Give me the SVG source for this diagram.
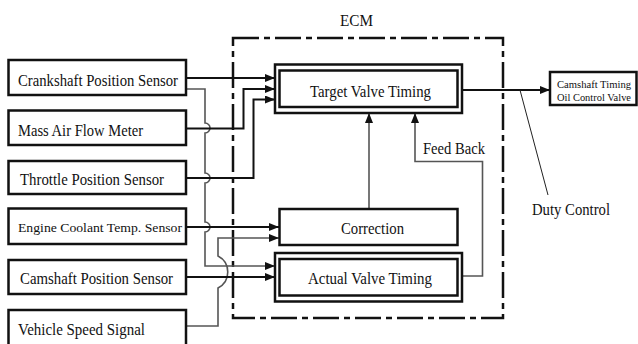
<svg xmlns="http://www.w3.org/2000/svg" width="638" height="344" viewBox="0 0 638 344">
<style>
  .box { fill: #fff; stroke: #111; stroke-width: 2.5; }
  .t { font-family: "Liberation Serif", "Times New Roman", serif; font-size: 17px; fill: #111; }
  .ts { font-family: "Liberation Serif", "Times New Roman", serif; font-size: 13px; fill: #111; }
  .tv { font-family: "Liberation Serif", "Times New Roman", serif; font-size: 11px; fill: #111; }
  .ln { fill: none; stroke: #111; stroke-width: 2; }
  .lg { fill: none; stroke: #555; stroke-width: 1.6; }
  .ecm { fill: none; stroke: #111; stroke-width: 2.5; stroke-dasharray: 26 5 6 5; }
</style>
<defs>
  <marker id="ah" markerWidth="10" markerHeight="8" refX="10" refY="4" orient="auto" markerUnits="userSpaceOnUse">
    <path d="M0,0 L10,4 L0,8 Z" fill="#111"/>
  </marker>
</defs>
<rect width="638" height="344" fill="#fff"/>

<g id="ecm">
  <rect class="ecm" x="233" y="38" width="270" height="280"/>
  <text class="t" x="356.5" y="26" text-anchor="middle" textLength="33" lengthAdjust="spacingAndGlyphs">ECM</text>
</g>

<g id="connectors">
  <path class="ln" d="M186,78 H275" marker-end="url(#ah)"/>
  <path class="lg" d="M186,89 H205 V123 A5,5 0 0 1 205,133 V173 A5,5 0 0 1 205,183 V222 A5,5 0 0 1 205,232 V266 H275" marker-end="url(#ah)"/>
  <path class="ln" d="M186,128.5 H243.5 V89 H275" marker-end="url(#ah)"/>
  <path class="ln" d="M186,178 H253.5 V99.5 H275" marker-end="url(#ah)"/>
  <path class="ln" d="M186,227 H279" marker-end="url(#ah)"/>
  <path class="lg" d="M186,326 H218 V288 A18,18 0 0 0 218,256 V238 H279" marker-end="url(#ah)"/>
  <path class="ln" d="M186,277 H275" marker-end="url(#ah)"/>
  <path class="lg" d="M369,209 V113" marker-end="url(#ah)"/>
  <path class="lg" d="M462,276 H482.5 V161.5 H415 V113" marker-end="url(#ah)"/>
  <path class="ln" d="M462,90 H550" marker-end="url(#ah)"/>
  <path d="M520,90 L548,195" stroke="#222" stroke-width="1" fill="none"/>
</g>

<g id="crankshaft">
  <rect class="box" x="8.5" y="60" width="177.5" height="35"/>
  <text class="t" x="18" y="86" textLength="160" lengthAdjust="spacingAndGlyphs">Crankshaft Position Sensor</text>
</g>
<g id="maf">
  <rect class="box" x="8.5" y="110.5" width="177.5" height="34.5"/>
  <text class="t" x="18" y="136" textLength="125" lengthAdjust="spacingAndGlyphs">Mass Air Flow Meter</text>
</g>
<g id="throttle">
  <rect class="box" x="8.5" y="161" width="177.5" height="33"/>
  <text class="t" x="20" y="185" textLength="144" lengthAdjust="spacingAndGlyphs">Throttle Position Sensor</text>
</g>
<g id="coolant">
  <rect class="box" x="8.5" y="208.5" width="177.5" height="35.5"/>
  <text class="ts" x="18" y="232" textLength="164" lengthAdjust="spacingAndGlyphs">Engine Coolant Temp. Sensor</text>
</g>
<g id="camshaft">
  <rect class="box" x="8.5" y="260" width="177.5" height="34"/>
  <text class="t" x="20" y="284" textLength="153" lengthAdjust="spacingAndGlyphs">Camshaft Position Sensor</text>
</g>
<g id="vss">
  <rect class="box" x="8.5" y="310" width="177.5" height="45"/>
  <text class="t" x="18" y="335" textLength="127" lengthAdjust="spacingAndGlyphs">Vehicle Speed Signal</text>
</g>

<g id="target">
  <rect class="box" x="275" y="64.5" width="187" height="48.5"/>
  <rect class="box" x="279.5" y="70.5" width="178" height="36.5"/>
  <text class="t" x="310" y="97" textLength="121" lengthAdjust="spacingAndGlyphs">Target Valve Timing</text>
</g>
<g id="correction">
  <rect class="box" x="279.5" y="209" width="178" height="36"/>
  <text class="t" x="341" y="234" textLength="63" lengthAdjust="spacingAndGlyphs">Correction</text>
</g>
<g id="actual">
  <rect class="box" x="275" y="253" width="187" height="48.5"/>
  <rect class="box" x="279.5" y="259" width="178" height="36.5"/>
  <text class="t" x="308" y="284" textLength="124" lengthAdjust="spacingAndGlyphs">Actual Valve Timing</text>
</g>
<g id="ocv">
  <rect class="box" x="550" y="72" width="86.5" height="33"/>
  <text class="tv" x="557" y="87.5" textLength="74" lengthAdjust="spacingAndGlyphs">Camshaft Timing</text>
  <text class="tv" x="557" y="100.5" textLength="74" lengthAdjust="spacingAndGlyphs">Oil Control Valve</text>
</g>

<g id="labels">
  <text class="t" x="423" y="154" textLength="62" lengthAdjust="spacingAndGlyphs">Feed Back</text>
  <text class="t" x="532" y="215" textLength="78" lengthAdjust="spacingAndGlyphs">Duty Control</text>
</g>
</svg>
